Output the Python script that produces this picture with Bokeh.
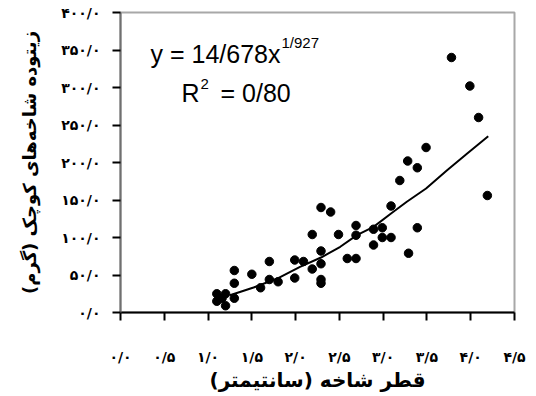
from bokeh.plotting import figure
from bokeh.models import FixedTicker, Label, Range1d
from bokeh.embed import file_html
from bokeh.resources import INLINE

# Data: branch diameter (cm) vs small-branch biomass (g)
diameter = [3.78, 3.99, 4.09, 4.19, 3.49, 3.28, 3.39, 3.19, 3.09, 3.39,
            3.29, 3.09, 2.99, 2.99, 2.89, 2.89, 2.69, 2.69, 2.69, 2.59,
            2.49, 2.29, 2.40, 2.19, 2.29, 2.29, 2.29, 2.29, 2.19, 2.09,
            1.99, 1.99, 1.80, 1.70, 1.70, 1.60, 1.50, 1.30, 1.30, 1.30,
            1.20, 1.20, 1.10, 1.10, 1.16]
biomass = [340, 302, 260, 156, 220, 202, 193, 176, 142, 113,
           79, 100, 100, 113, 111, 90, 116, 103, 72, 72,
           104, 140, 134, 104, 82, 65, 44, 39, 58, 68,
           70, 46, 41, 68, 44, 33, 51, 56, 39, 19,
           25, 9, 25, 15, 19]

# Trend line points
trend_x = [1.25, 1.52, 1.79, 2.05, 2.29, 2.51, 2.70, 2.89, 3.09, 3.27,
           3.49, 3.73, 3.96, 4.20]
trend_y = [23.1, 33.3, 45.3, 60.9, 73.3, 87.6, 103.1, 114.2, 132.0, 147.6,
           165.3, 189.8, 212.0, 235.1]

x_ticks = [0, 0.5, 1.0, 1.5, 2.0, 2.5, 3.0, 3.5, 4.0, 4.5]
x_tick_labels = ["۰/۰", "۰/۵", "۱/۰", "۱/۵", "۲/۰", "۲/۵", "۳/۰", "۳/۵", "۴/۰", "۴/۵"]
y_ticks = [0, 50, 100, 150, 200, 250, 300, 350, 400]
y_tick_labels = ["۰/۰", "۵۰/۰", "۱۰۰/۰", "۱۵۰/۰", "۲۰۰/۰", "۲۵۰/۰", "۳۰۰/۰", "۳۵۰/۰", "۴۰۰/۰"]

x_title = "قطر شاخه (سانتیمتر)"
y_title = "زیتوده شاخه‌های کوچک (گرم)"
eq_main = "y = 14/678x"
eq_sup = "1/927"
r2_main = "R"
r2_sup = "2"
r2_rest = "= 0/80"

p = figure(width=536, height=396, output_backend="svg", toolbar_location=None,
           x_range=Range1d(0, 4.5), y_range=Range1d(0, 400),
           min_border_left=120, min_border_right=22, min_border_top=12,
           min_border_bottom=84)
p.background_fill_color = "white"
p.border_fill_color = "white"
p.outline_line_color = "#a8a8a8"
p.outline_line_width = 2
p.xgrid.visible = False
p.ygrid.visible = False

ar_font = "DejaVu Sans"

p.xaxis.ticker = FixedTicker(ticks=x_ticks)
p.xaxis.major_label_overrides = {t: s for t, s in zip(x_ticks, x_tick_labels)}
p.yaxis.ticker = FixedTicker(ticks=y_ticks)
p.yaxis.major_label_overrides = {t: s for t, s in zip(y_ticks, y_tick_labels)}

for ax in (p.xaxis[0], p.yaxis[0]):
    ax.major_tick_in = 0
    ax.major_tick_out = 8
    ax.minor_tick_in = 0
    ax.minor_tick_out = 0
    ax.major_tick_line_color = "black"
    ax.major_tick_line_width = 2
    ax.major_label_text_font = ar_font
    ax.major_label_text_font_style = "bold"
    ax.major_label_text_font_size = "14px"
    ax.major_label_text_color = "black"
    ax.axis_label_text_font = ar_font
    ax.axis_label_text_font_style = "bold"
    ax.axis_label_text_color = "black"

p.xaxis.axis_line_color = "black"
p.xaxis.axis_line_width = 2
p.yaxis.axis_line_color = "#707070"
p.yaxis.axis_line_width = 2

p.xaxis.major_label_standoff = 28
p.yaxis.major_label_standoff = 12
p.xaxis.axis_label = x_title
p.yaxis.axis_label = y_title
p.xaxis.axis_label_text_font_size = "20px"
p.yaxis.axis_label_text_font_size = "18px"
p.xaxis.axis_label_standoff = 0
p.yaxis.axis_label_standoff = 18

p.line(trend_x, trend_y, line_color="black", line_width=2)
p.scatter(diameter, biomass, size=8.5, fill_color="black", line_color="black")

lat = "Liberation Sans"
p.add_layout(Label(x=30, y=259, x_units="screen", y_units="screen", text=eq_main,
                   text_font=lat, text_font_size="25px", text_color="black",
                   text_baseline="alphabetic"))
p.add_layout(Label(x=161, y=270, x_units="screen", y_units="screen", text=eq_sup,
                   text_font=lat, text_font_size="15px", text_color="black",
                   text_baseline="alphabetic"))
p.add_layout(Label(x=61, y=220, x_units="screen", y_units="screen", text=r2_main,
                   text_font=lat, text_font_size="25px", text_color="black",
                   text_baseline="alphabetic"))
p.add_layout(Label(x=80, y=229, x_units="screen", y_units="screen", text=r2_sup,
                   text_font=lat, text_font_size="15px", text_color="black",
                   text_baseline="alphabetic"))
p.add_layout(Label(x=100, y=220, x_units="screen", y_units="screen", text=r2_rest,
                   text_font=lat, text_font_size="25px", text_color="black",
                   text_baseline="alphabetic"))

open("out.html", "w").write(file_html(p, INLINE))
